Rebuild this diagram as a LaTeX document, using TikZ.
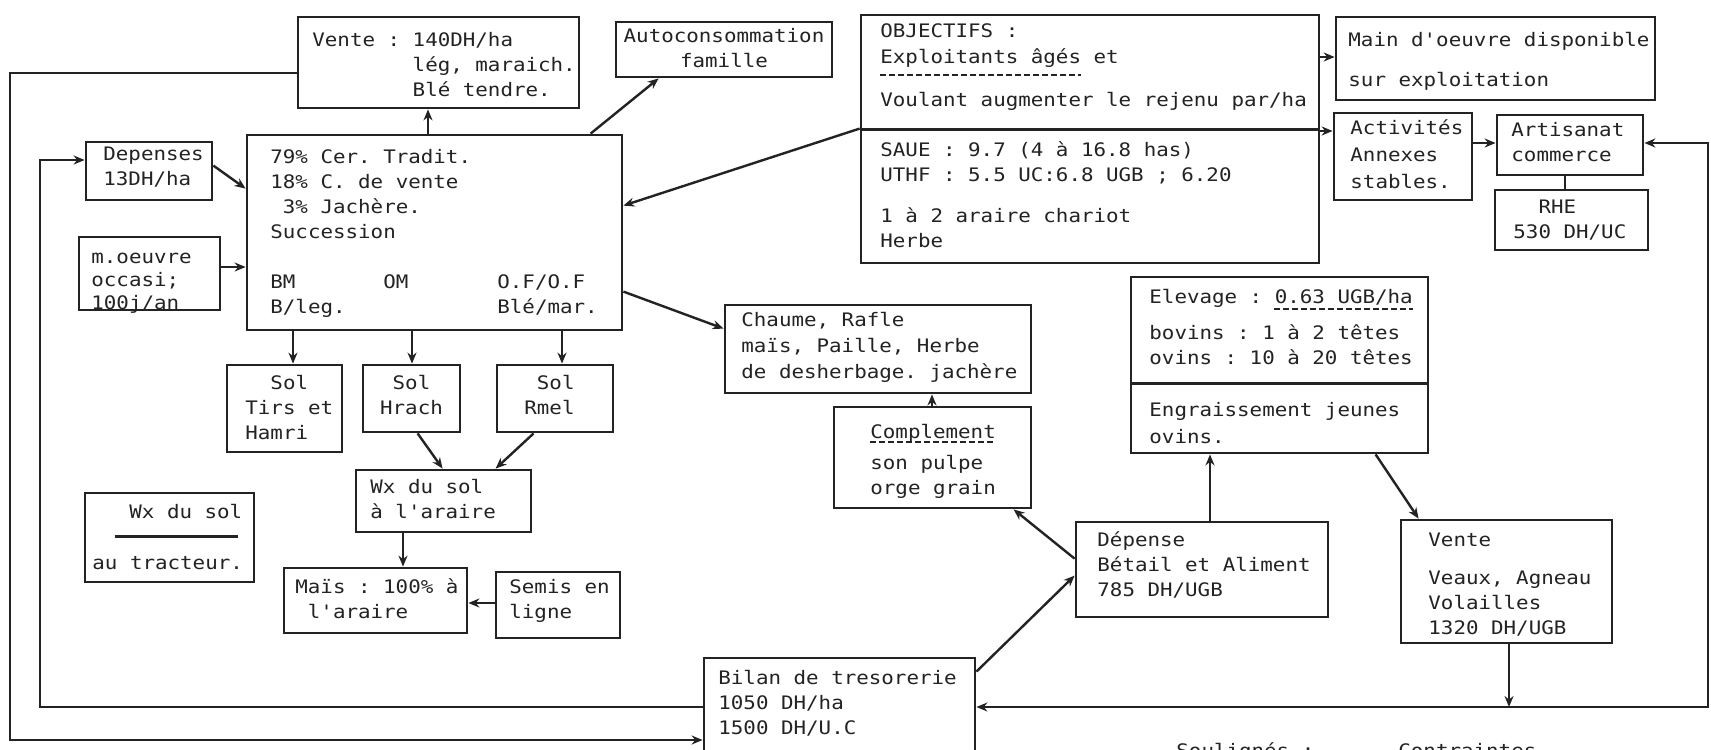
\documentclass[tikz,border=0pt]{standalone}
\usepackage{fontspec}
\newfontfamily\mono[FakeStretch=1.12]{DejaVu Sans Mono}
\usetikzlibrary{arrows.meta,fit,calc}
\definecolor{ink}{RGB}{35,35,35}
\newcommand\fs{\rule{0pt}{9pt}}
\newcommand\q{{\char39}}
\frenchspacing
\newcommand\T[4]{\node[txt] (#1) at (#2,{#3-12}) {\fs#4};}
\newcommand\TC[4]{\node[txt,anchor=north,align=center] (#1) at (#2,{#3-12}) {\fs#4};}
\begin{document}
\begin{tikzpicture}[x=0.5pt,y=-0.5pt,
  box/.style={draw=ink,line width=1.4pt,inner sep=0pt},
  txt/.style={anchor=north west,inner sep=0pt,align=left,text=ink,
    font=\mono\fontsize{9.3}{12.5}\selectfont},
  arr/.style={draw=ink,line width=1.2pt,-{Stealth[length=5.5pt,width=4.5pt]}},
  arrboth/.style={draw=ink,line width=1.2pt,{Stealth[length=5.5pt,width=4.5pt]}-{Stealth[length=5.5pt,width=4.5pt]}},
  ln/.style={draw=ink,line width=1.2pt},
  dsh/.style={draw=ink,line width=0.9pt,dash pattern=on 3pt off 1.5pt}]
\fill[white] (0,0) rectangle (1711,749);
\useasboundingbox (0,0) rectangle (1711,749);

% boxes
\node[box,fit={(298,17)(579,108)}] (vente1) {};
\node[box,fit={(616,22)(832,77)}] (autocons) {};
\node[box,fit={(861,15)(1319,263)}] (obj) {};
\draw[ln] ($(obj.north west)+(0,116)$) -- ($(obj.north east)+(0,116)$);
\node[box,fit={(1336,17)(1655,100)}] (maindo) {};
\node[box,fit={(1334,113)(1472,200)}] (activ) {};
\node[box,fit={(1497,115)(1643,175)}] (artis) {};
\node[box,fit={(1495,190)(1648,250)}] (rhe) {};
\node[box,fit={(86,142)(212,200)}] (depenses) {};
\node[box,fit={(247,135)(622,330)}] (main) {};
\node[box,fit={(79,237)(220,310)}] (moeuvre) {};
\node[box,fit={(227,365)(342,452)}] (sol1) {};
\node[box,fit={(363,365)(460,432)}] (sol2) {};
\node[box,fit={(497,365)(613,432)}] (sol3) {};
\node[box,fit={(356,470)(531,532)}] (wx) {};
\node[box,fit={(85,493)(254,582)}] (legend) {};
\node[box,fit={(284,568)(467,633)}] (mais) {};
\node[box,fit={(496,572)(620,638)}] (semis) {};
\node[box,fit={(725,305)(1031,393)}] (chaume) {};
\node[box,fit={(834,407)(1031,508)}] (compl) {};
\node[box,fit={(1131,277)(1428,453)}] (elev) {};
\draw[ln] ($(elev.north west)+(0,108)$) -- ($(elev.north east)+(0,108)$);
\node[box,fit={(1076,522)(1328,617)}] (dep2) {};
\node[box,fit={(1401,520)(1612,643)}] (vente2) {};
\node[box,fit={(704,658)(975,775)}] (bilan) {};

% texts
\T{t-vente1}{312}{40}{Vente : 140DH/ha\\\phantom{00000000}lég, maraich.\\\phantom{00000000}Blé tendre.}
\TC{t-auto}{724}{36}{Autoconsommation\\famille}
\T{t-obja}{880}{31}{OBJECTIFS :\\[0.5pt]Exploitants âgés et\\[9pt]Voulant augmenter le rejenu par/ha}
\draw[dsh] ($(t-obja.north west)+(0,56)$) -- ++(201,0);
\T{t-objb}{880}{150}{SAUE : 9.7 (4 à 16.8 has)\\UTHF : 5.5 UC:6.8 UGB ; 6.20\\[8pt]1 à 2 araire chariot\\Herbe}
\T{t-maindo}{1348}{40}{Main d\q oeuvre disponible\\[7.5pt]sur exploitation}
\T{t-activ}{1350}{128}{Activités\\[1pt]Annexes\\[1pt]stables.}
\T{t-artis}{1511}{130}{Artisanat\\commerce}
\T{t-rhe}{1513}{207}{\phantom{00}RHE\\530 DH/UC}
\T{t-dep}{103}{154}{Depenses\\13DH/ha}
\T{t-main}{270}{157}{79\% Cer. Tradit.\\18\% C. de vente\\\phantom{0}3\% Jachère.\\Succession}
\T{t-mainb}{270}{282}{BM\\B/leg.}
\T{t-mainc}{383}{282}{OM}
\T{t-maind}{497}{282}{O.F/O.F\\Blé/mar.}
\T{t-moeuvre}{91}{257}{m.oeuvre\\[-1pt]occasi;\\[-1pt]100j/an}
\T{t-sol1}{245}{383}{\phantom{00}Sol\\Tirs et\\Hamri}
\TC{t-sol2}{411.5}{383}{Sol\\Hrach}
\T{t-sol3}{524}{383}{\phantom{0}Sol\\Rmel}
\T{t-wx}{370}{487}{Wx du sol\\à l\q araire}
\T{t-lega}{129}{512}{Wx du sol}
\draw[ln] ($(legend.north west)+(31,45)$) -- ($(legend.north west)+(154,45)$);
\T{t-legb}{92}{563}{au tracteur.}
\T{t-mais}{295}{587}{Maïs : 100\% à\\\phantom{0}l\q araire}
\T{t-semis}{509}{587}{Semis en\\ligne}
\T{t-chaume}{741}{320}{Chaume, Rafle\\[0.5pt]maïs, Paille, Herbe\\[0.5pt]de desherbage. jachère}
\T{t-compl}{870}{432}{Complement\\[3pt]son pulpe\\orge grain}
\draw[dsh] ($(t-compl.north west)+(0,22)$) -- ++(126,0);
\T{t-eleva}{1149}{297}{Elevage : 0.63 UGB/ha\\[5.5pt]bovins : 1 à 2 têtes\\ovins : 10 à 20 têtes}
\draw[dsh] ($(t-eleva.north west)+(125,24)$) -- ++(139,0);
\T{t-elevb}{1149}{410}{Engraissement jeunes\\[1pt]ovins.}
\T{t-dep2}{1097}{540}{Dépense\\Bétail et Aliment\\785 DH/UGB}
\T{t-vente2}{1428}{540}{Vente\\[6.5pt]Veaux, Agneau\\Volailles\\1320 DH/UGB}
\T{t-bilan}{718}{678}{Bilan de tresorerie\\1050 DH/ha\\1500 DH/U.C}
\node[txt] (caption) at (1176,739) {\fs Soulignés :\hspace{42pt}Contraintes};

% helper coordinates
\coordinate (xa) at (428,0);
\coordinate (ya) at (0,57);
\coordinate (yb) at (0,131);
\coordinate (yc) at (0,143);
\coordinate (xb) at (1565,0);
\coordinate (r1) at (1708,143);
\coordinate (r2) at (1708,707);
\coordinate (xc) at (1509,0);
\coordinate (xd) at (1210,0);
\coordinate (xe) at (932,0);
\coordinate (yd) at (0,267);
\coordinate (x1) at (293,0);
\coordinate (x2) at (412,0);
\coordinate (x3) at (562,0);
\coordinate (xf) at (403,0);
\coordinate (ye) at (0,603);
\coordinate (o1) at (10,73);
\coordinate (o2) at (10,740);
\coordinate (i1) at (40,707);
\coordinate (i2) at (40,160);

% connectors
\draw[arr] (main.north -| xa) -- (vente1.south -| xa);
\draw[arr] ($(main.north west)+(345,0)$) -- ($(autocons.south west)+(44,0)$);
\draw[arr] ($(obj.north west)+(0,115)$) -- ($(main.north east)+(0,72)$);
\draw[arr] (obj.east |- ya) -- (maindo.west |- ya);
\draw[arr] (obj.east |- yb) -- (activ.west |- yb);
\draw[arr] (activ.east |- yc) -- (artis.west |- yc);
\draw[ln] (artis.south -| xb) -- (rhe.north -| xb);
\draw[arrboth] (artis.east |- r1) -- (r1) -- (r2) -- (bilan.east |- r2);
\draw[arr] (vente2.south -| xc) -- (r2 -| xc);
\draw[arr] ($(elev.south west)+(246,0)$) -- ($(vente2.north west)+(19,0)$);
\draw[arr] (dep2.north -| xd) -- (elev.south -| xd);
\draw[arr] ($(bilan.north east)+(0,15)$) -- ($(dep2.north west)+(0,55)$);
\draw[arr] ($(dep2.north west)+(0,38)$) -- ($(compl.south west)+(181,0)$);
\draw[arr] (compl.north -| xe) -- (chaume.south -| xe);
\draw[arr] ($(main.north east)+(0,158)$) -- ($(chaume.north west)+(0,25)$);
\draw[arr] ($(depenses.north east)+(0,25)$) -- ($(main.north west)+(0,55)$);
\draw[arr] (moeuvre.east |- yd) -- (main.west |- yd);
\draw[arr] (main.south -| x1) -- (sol1.north -| x1);
\draw[arr] (main.south -| x2) -- (sol2.north -| x2);
\draw[arr] (main.south -| x3) -- (sol3.north -| x3);
\draw[arr] ($(sol2.south west)+(56,0)$) -- ($(wx.north west)+(88,0)$);
\draw[arr] ($(sol3.south west)+(38,0)$) -- ($(wx.north west)+(141,0)$);
\draw[arr] (wx.south -| xf) -- (mais.north -| xf);
\draw[arr] (semis.west |- ye) -- (mais.east |- ye);
\draw[arr] (vente1.west |- o1) -- (o1) -- (o2) -- (bilan.west |- o2);
\draw[arr] (bilan.west |- i1) -- (i1) -- (i2) -- (depenses.west |- i2);
\end{tikzpicture}
\end{document}
